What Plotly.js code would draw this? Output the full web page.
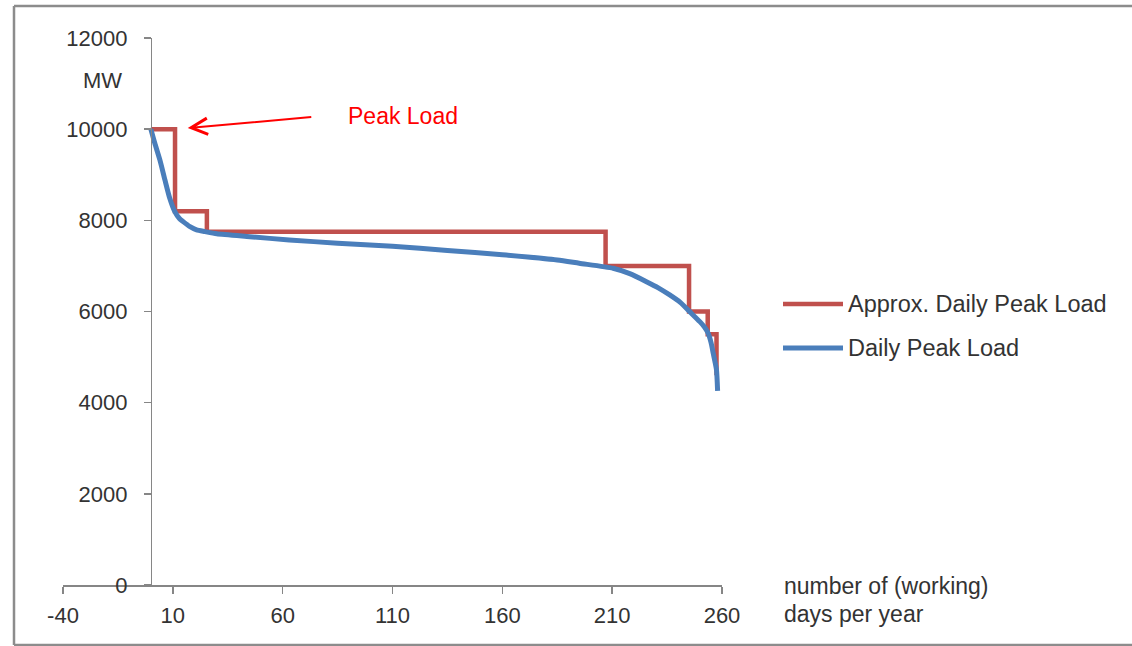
<!DOCTYPE html>
<html>
<head>
<meta charset="utf-8">
<script src="https://cdn.plot.ly/plotly-3.0.1.min.js"></script>
<style>
html,body{margin:0;padding:0;background:#fff;}
#chart{width:1132px;height:646px;}
</style>
</head>
<body>
<div id="chart"></div>
<script>
// ---- data ----
var approxDays = [0, 11, 25.5, 207, 245, 253.5, 257.5, 257.5];
var approxLoad = [10000, 8200, 7750, 7000, 6000, 5500, 4600, 4600];

var dailyDays = [0, 1.8, 4.1, 6.4, 8.6, 10.9, 13, 14.7, 17.8, 20.8, 24.6, 30, 45, 63, 85, 110, 135, 160, 185, 195, 210.4, 218, 225.6, 231, 236.2, 241, 245.3, 249.9, 252, 253.7, 255, 256, 256.8, 257.5, 258];
var dailyLoad = [10000, 9690, 9325, 8886, 8484, 8191, 8040, 7971, 7861, 7789, 7752, 7705, 7642, 7569, 7500, 7430, 7340, 7245, 7130, 7058, 6948, 6830, 6655, 6520, 6363, 6200, 5997, 5777, 5660, 5522, 5320, 5084, 4900, 4717, 4260];

var xTicks = [-40, 10, 60, 110, 160, 210, 260];
var yTicks = [0, 2000, 4000, 6000, 8000, 10000, 12000];
var seriesNames = ['Approx. Daily Peak Load', 'Daily Peak Load'];
var seriesColors = ['#C0504D', '#4A7EBB'];

// ---- geometry helpers (pixel -> paper) ----
var W = 1132, H = 646, L = 63, R = 722, T = 38, B = 585;
function px(x){ return (x - L) / (R - L); }
function py(y){ return (B - y) / (B - T); }

var font = 'Liberation Sans, Arial, sans-serif';
var txt = '#333333';
var axisCol = '#868686';

var traces = [
  {x: approxDays, y: approxLoad, mode: 'lines', name: seriesNames[0],
   line: {color: seriesColors[0], width: 4.5, shape: 'hv'}, showlegend: false, hoverinfo: 'skip'},
  {x: dailyDays, y: dailyLoad, mode: 'lines', name: seriesNames[1],
   line: {color: seriesColors[1], width: 5, shape: 'spline', smoothing: 0.6}, showlegend: false, hoverinfo: 'skip'}
];

var layout = {
  width: W, height: H,
  margin: {l: L, r: W - R, t: T, b: H - B, pad: 0},
  paper_bgcolor: '#ffffff', plot_bgcolor: '#ffffff',
  showlegend: false,
  font: {family: font, color: txt, size: 22},
  xaxis: {
    range: [-40, 260], tickmode: 'array', tickvals: xTicks, ticktext: xTicks.map(String),
    showgrid: false, zeroline: false, showline: true, linecolor: axisCol, linewidth: 1.5,
    ticks: 'outside', ticklen: 7, tickcolor: axisCol, tickwidth: 1.5,
    tickfont: {family: font, size: 22, color: txt}, ticklabelstandoff: 3, fixedrange: true
  },
  yaxis: {
    range: [0, 12000], tickmode: 'array', tickvals: yTicks, ticktext: yTicks.map(String),
    anchor: 'free', position: 40 / 300, side: 'left',
    showgrid: false, zeroline: false, showline: true, linecolor: axisCol, linewidth: 1.5,
    ticks: 'outside', ticklen: 7, tickcolor: axisCol, tickwidth: 1.5,
    tickfont: {family: font, size: 22, color: txt}, ticklabelstandoff: 12, fixedrange: true
  },
  shapes: [
    // outer frame (left, top, bottom)
    {type: 'line', xref: 'paper', yref: 'paper', x0: px(14), x1: px(14), y0: py(6), y1: py(645), line: {color: '#8c8c8c', width: 2.5}},
    {type: 'line', xref: 'paper', yref: 'paper', x0: px(14), x1: px(1132), y0: py(6), y1: py(6), line: {color: '#8c8c8c', width: 2.5}},
    {type: 'line', xref: 'paper', yref: 'paper', x0: px(14), x1: px(1132), y0: py(645), y1: py(645), line: {color: '#8c8c8c', width: 2.5}},
    // legend samples
    {type: 'line', xref: 'paper', yref: 'paper', x0: px(783), x1: px(843), y0: py(304), y1: py(304), line: {color: seriesColors[0], width: 4.5}},
    {type: 'line', xref: 'paper', yref: 'paper', x0: px(783), x1: px(843), y0: py(348), y1: py(348), line: {color: seriesColors[1], width: 5}}
  ],
  annotations: [
    {xref: 'paper', yref: 'paper', x: px(102), y: py(80), text: 'MW', showarrow: false,
     xanchor: 'center', yanchor: 'middle', font: {family: font, size: 22, color: txt}},
    {xref: 'paper', yref: 'paper', x: px(346), y: py(116), text: 'Peak Load', showarrow: false,
     xanchor: 'left', yanchor: 'middle', font: {family: font, size: 23, color: '#FF0000'}},
    {xref: 'x', yref: 'y', x: 16.8, y: 10026, text: '', showarrow: true, ax: 125, ay: -11,
     axref: 'pixel', ayref: 'pixel', arrowhead: 5, arrowsize: 1.6, arrowwidth: 2, arrowcolor: '#FF0000', standoff: 0, startstandoff: 0},
    {xref: 'paper', yref: 'paper', x: px(782), y: py(586), text: 'number of (working)', showarrow: false,
     xanchor: 'left', yanchor: 'middle', font: {family: font, size: 23, color: txt}},
    {xref: 'paper', yref: 'paper', x: px(782), y: py(614), text: 'days per year', showarrow: false,
     xanchor: 'left', yanchor: 'middle', font: {family: font, size: 23, color: txt}},
    {xref: 'paper', yref: 'paper', x: px(846), y: py(304), text: seriesNames[0], showarrow: false,
     xanchor: 'left', yanchor: 'middle', font: {family: font, size: 23.5, color: txt}},
    {xref: 'paper', yref: 'paper', x: px(846), y: py(348), text: seriesNames[1], showarrow: false,
     xanchor: 'left', yanchor: 'middle', font: {family: font, size: 23.5, color: txt}}
  ]
};

Plotly.newPlot('chart', traces, layout, {staticPlot: true, displayModeBar: false});
</script>
</body>
</html>
